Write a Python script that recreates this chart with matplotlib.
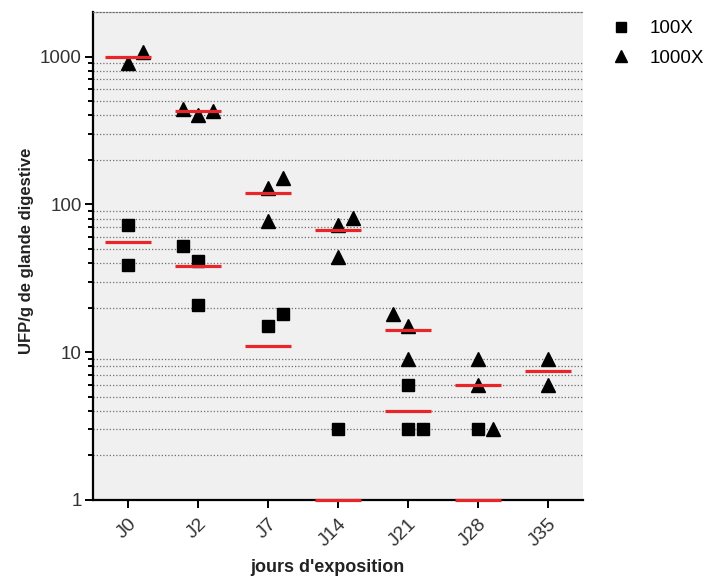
import matplotlib
matplotlib.use('Agg')
import matplotlib.pyplot as plt
from matplotlib.ticker import FixedLocator, NullFormatter, FixedFormatter
from matplotlib.lines import Line2D

# ---- data ----
days = ['J0', 'J2', 'J7', 'J14', 'J21', 'J28', 'J35']
vals_100x = [[73, 39], [52, 41.5, 21], [15, 18], [3], [6, 3, 3], [3], []]
vals_1000x = [[900, 1080], [440, 400, 430], [128, 150, 77], [73, 81, 44],
              [18, 15, 9], [9, 6, 3], [9, 6]]
mean_100x = [56, 38, 11, 1, 4, 1, None]
mean_1000x = [990, 425, 120, 67, 14.2, 6, 7.5]
ytick_vals = [1, 10, 100, 1000]
ytick_labels = ['1', '10', '100', '1000']
legend_labels = ['100X', '1000X']

# ---- layout (horizontal collision slots, GraphPad-style scatter) ----
slots_100x = [[0, 0], [-1, 0, 0], [0, 1], [0], [0, 0, 1], [0], []]
slots_1000x = [[0, 1], [-1, 0, 1], [0, 1, 0], [0, 1, 0], [-1, 0, 0], [0, 0, 1], [0, 0]]
slot_step = 0.215
half_w = 0.33

plt.rcParams['font.family'] = ['Liberation Sans', 'DejaVu Sans']

fig = plt.figure(figsize=(7.10, 5.81), dpi=100)
ax = fig.add_axes([93/710, 1-500/581, (583-93)/710, (500-12)/581])
ax.set_facecolor('#f0f0f0')
ax.set_yscale('log')
ax.set_ylim(1, 2000)
ax.set_xlim(-0.5, 6.5)

# grid at minor positions
minor_vals = [m * d for d in (1, 10, 100) for m in range(2, 10)]
for v in minor_vals:
    ax.axhline(v, color='#6e6e6e', lw=0.9, ls=(0, (1, 1.6)), zorder=1)

# markers
sq_x, sq_y, tr_x, tr_y = [], [], [], []
for i in range(len(days)):
    for v, s in zip(vals_100x[i], slots_100x[i]):
        sq_x.append(i + s * slot_step); sq_y.append(v)
    for v, s in zip(vals_1000x[i], slots_1000x[i]):
        tr_x.append(i + s * slot_step); tr_y.append(v)
ax.plot(sq_x, sq_y, ls='none', marker='s', ms=8.8, color='black', zorder=3, label=legend_labels[0])
ax.plot(tr_x, tr_y, ls='none', marker='^', ms=9.6, color='black', zorder=3, label=legend_labels[1])

# mean lines
for i in range(len(days)):
    for m in (mean_100x[i], mean_1000x[i]):
        if m is not None:
            ax.hlines(m, i - half_w, i + half_w, color='#e8262a', lw=2.3, zorder=4, clip_on=False)

# spines
ax.spines['right'].set_visible(False)
ax.spines['top'].set_linestyle((0, (1, 1.6)))
ax.spines['top'].set_color('#6e6e6e')
ax.spines['top'].set_linewidth(0.9)
ax.spines['left'].set_linewidth(1.6)
ax.spines['bottom'].set_linewidth(1.6)

ax.yaxis.set_major_locator(FixedLocator(ytick_vals))
ax.yaxis.set_major_formatter(FixedFormatter(ytick_labels))
ax.yaxis.set_minor_locator(FixedLocator(minor_vals))
ax.yaxis.set_minor_formatter(NullFormatter())
ax.tick_params(axis='y', which='major', length=6, width=1.4, labelsize=13.5, labelcolor='#333333', pad=2)
ax.tick_params(axis='y', which='minor', length=3.8, width=1.4)

ax.set_xticks(range(len(days)))
ax.set_xticklabels(days, rotation=45, ha='right', rotation_mode='anchor')
ax.tick_params(axis='x', length=6, width=1.4, labelsize=14, labelcolor='#333333', pad=5)

fig.text(327/710, 1-567/581, "jours d'exposition", ha='center', va='center',
         fontsize=13, fontweight='bold', color='#222222')
fig.text(27/710, 1-251/581, "UFP/g de glande digestive", ha='center', va='center',
         rotation=90, fontsize=12, fontweight='bold', color='#222222')

handles = [Line2D([], [], ls='none', marker='s', ms=7.2, color='black'),
           Line2D([], [], ls='none', marker='^', ms=8, color='black')]
fig.legend(handles, legend_labels, loc='upper left', bbox_to_anchor=(612/710, 1-20/581),
           frameon=False, fontsize=13.5, handlelength=1.0, handletextpad=1.0,
           labelspacing=0.66, borderpad=0, borderaxespad=0)

fig.savefig('out.png', dpi=100)
